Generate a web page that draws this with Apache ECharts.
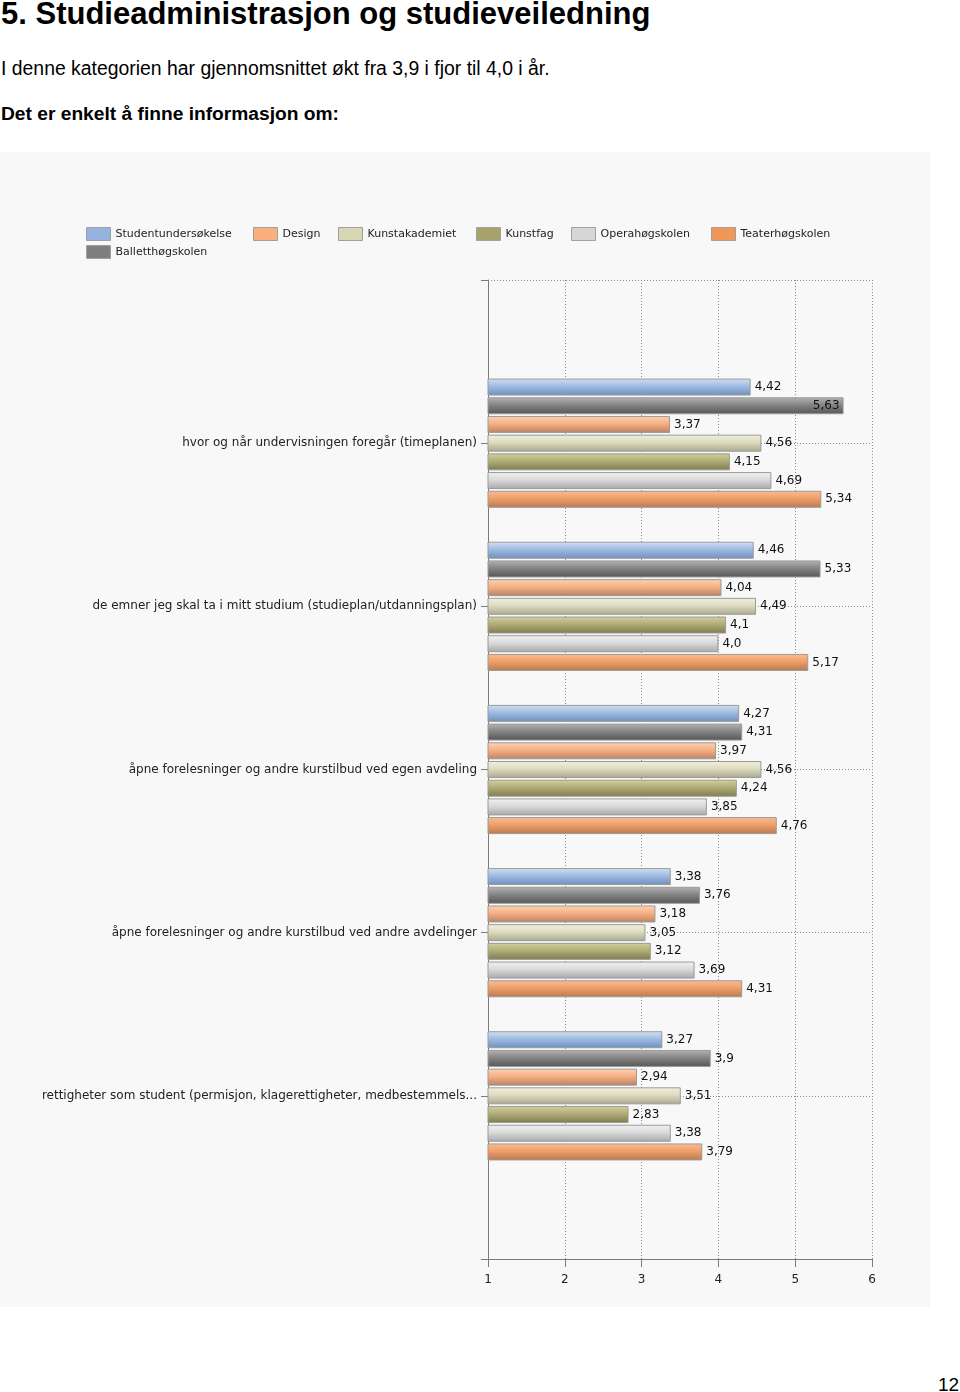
<!DOCTYPE html>
<html>
<head>
<meta charset="utf-8">
<script src="https://cdn.jsdelivr.net/npm/echarts@6/dist/echarts.min.js"></script>
<style>
  html, body { margin: 0; padding: 0; background: #ffffff; width: 960px; height: 1392px; overflow: hidden; }
  .t { position: absolute; font-family: "Liberation Sans", Arial, sans-serif; color: #000; white-space: nowrap; line-height: 1; }
  #chart { position: absolute; left: 0; top: 152px; width: 930px; height: 1155px; }
</style>
</head>
<body>
<div class="t" style="left:1px; top:-2px; font-size:31px; font-weight:bold;">5. Studieadministrasjon og studieveiledning</div>
<div class="t" style="left:1px; top:59px; font-size:19.4px;">I denne kategorien har gjennomsnittet økt fra 3,9 i fjor til 4,0 i år.</div>
<div class="t" style="left:1px; top:104px; font-size:19.2px; font-weight:bold;">Det er enkelt å finne informasjon om:</div>
<div class="t" style="left:938px; top:1375px; font-size:19px;">12</div>
<div id="chart"></div>
<script>
// Categories (top to bottom)
const categories = [
  'hvor og når undervisningen foregår (timeplanen)',
  'de emner jeg skal ta i mitt studium (studieplan/utdanningsplan)',
  'åpne forelesninger og andre kurstilbud ved egen avdeling',
  'åpne forelesninger og andre kurstilbud ved andre avdelinger',
  'rettigheter som student (permisjon, klagerettigheter, medbestemmels...'
];
// Series values (per category, top to bottom)
const studentundersokelse = [4.42, 4.46, 4.27, 3.38, 3.27];
const balletthogskolen    = [5.63, 5.33, 4.31, 3.76, 3.9];
const design              = [3.37, 4.04, 3.97, 3.18, 2.94];
const kunstakademiet      = [4.56, 4.49, 4.56, 3.05, 3.51];
const kunstfag            = [4.15, 4.1, 4.24, 3.12, 2.83];
const operahogskolen      = [4.69, 4.0, 3.85, 3.69, 3.38];
const teaterhogskolen     = [5.34, 5.17, 4.76, 4.31, 3.79];
// X-axis tick labels
const xTicks = [1, 2, 3, 4, 5, 6];

const seriesDefs = [
  { name: 'Studentundersøkelse', data: studentundersokelse, legend: '#95b3de', c: ['#d3e1f3', '#9fbbe2', '#6f8fbd'] },
  { name: 'Balletthøgskolen',    data: balletthogskolen,    legend: '#7f7f7f', c: ['#b4b4b4', '#858585', '#555555'] },
  { name: 'Design',              data: design,              legend: '#f9b07d', c: ['#fdd2b2', '#f6b084', '#b98262'] },
  { name: 'Kunstakademiet',      data: kunstakademiet,      legend: '#d8d7b5', c: ['#f0efde', '#dddcc0', '#a9a88c'] },
  { name: 'Kunstfag',            data: kunstfag,            legend: '#a7a36d', c: ['#d3d09c', '#b1ad78', '#7e7b50'] },
  { name: 'Operahøgskolen',      data: operahogskolen,      legend: '#d6d6d6', c: ['#f2f2f2', '#dadada', '#a8a8a8'] },
  { name: 'Teaterhøgskolen',     data: teaterhogskolen,     legend: '#f0975a', c: ['#f9be92', '#ef9e68', '#b87a50'] }
];

// Padded category axis: empty slot above and below so groups sit on inner ticks
const yCats = [''].concat(categories).concat(['']);

const fmt = v => (Number.isInteger(v) ? v.toFixed(1) : String(v)).replace('.', ',');

const series = seriesDefs.map(s => ({
  name: s.name,
  type: 'bar',
  barWidth: 17,
  barGap: '10%',
  itemStyle: {
    color: new echarts.graphic.LinearGradient(0, 0, 0, 1, [
      { offset: 0, color: s.c[0] },
      { offset: 0.45, color: s.c[1] },
      { offset: 1, color: s.c[2] }
    ]),
    borderColor: '#9a9a9a',
    borderWidth: 1
  },
  label: {
    show: true,
    position: 'right',
    distance: 4,
    color: '#111',
    fontFamily: 'DejaVu Sans',
    fontSize: 12,
    formatter: p => fmt(p.value)
  },
  data: [null].concat(s.data.map(v => v > 5.5
    ? { value: v, label: { position: 'insideRight', distance: 4 } }
    : v)).concat([null])
}));

const legendPos = [
  [86, 81], [253, 81], [338, 81], [476, 81], [571, 81], [711, 81]
];
const legendOrder = ['Studentundersøkelse', 'Design', 'Kunstakademiet', 'Kunstfag', 'Operahøgskolen', 'Teaterhøgskolen'];
const legends = legendOrder.map((n, i) => ({
  data: [n], left: legendPos[i][0], top: legendPos[i][1] - 6
}));
legends.push({ data: ['Balletthøgskolen'], left: 86, top: 99 - 6 });
legends.forEach(l => {
  l.itemWidth = 24; l.itemHeight = 13; l.padding = 0; l.itemGap = 5;
  l.selectedMode = false;
  l.textStyle = { color: '#222', fontFamily: 'DejaVu Sans', fontSize: 11, padding: [0, 0, 0, 0] };
  l.data = l.data.map(n => {
    const d = seriesDefs.find(s => s.name === n);
    return { name: n, icon: 'rect', itemStyle: { color: d.legend, borderColor: '#a0a0a0', borderWidth: 1 } };
  });
});

const chart = echarts.init(document.getElementById('chart'), null, { renderer: 'canvas' });
chart.setOption({
  animation: false,
  backgroundColor: '#f8f8f8',
  legend: legends,
  grid: { left: 488, right: 58, top: 128, bottom: 48, containLabel: false },
  xAxis: {
    type: 'value',
    min: xTicks[0],
    max: xTicks[xTicks.length - 1],
    interval: 1,
    axisLine: { show: true, lineStyle: { color: '#7a7a7a', width: 1 } },
    axisTick: { show: true, length: 8, lineStyle: { color: '#7a7a7a' } },
    axisLabel: { color: '#222', fontFamily: 'DejaVu Sans', fontSize: 12, margin: 15 },
    splitLine: { show: true, lineStyle: { color: '#8a8a8a', type: [1, 2], width: 1 } }
  },
  yAxis: {
    type: 'category',
    inverse: true,
    data: yCats,
    boundaryGap: false,
    axisLine: { show: true, lineStyle: { color: '#7a7a7a', width: 1 } },
    axisTick: { show: true, length: 7, lineStyle: { color: '#7a7a7a' } },
    axisLabel: { color: '#222', fontFamily: 'DejaVu Sans', fontSize: 12, margin: 11 },
    splitLine: { show: true, lineStyle: { color: '#8a8a8a', type: [1, 2], width: 1 } }
  },
  series: series
});
</script>
</body>
</html>
